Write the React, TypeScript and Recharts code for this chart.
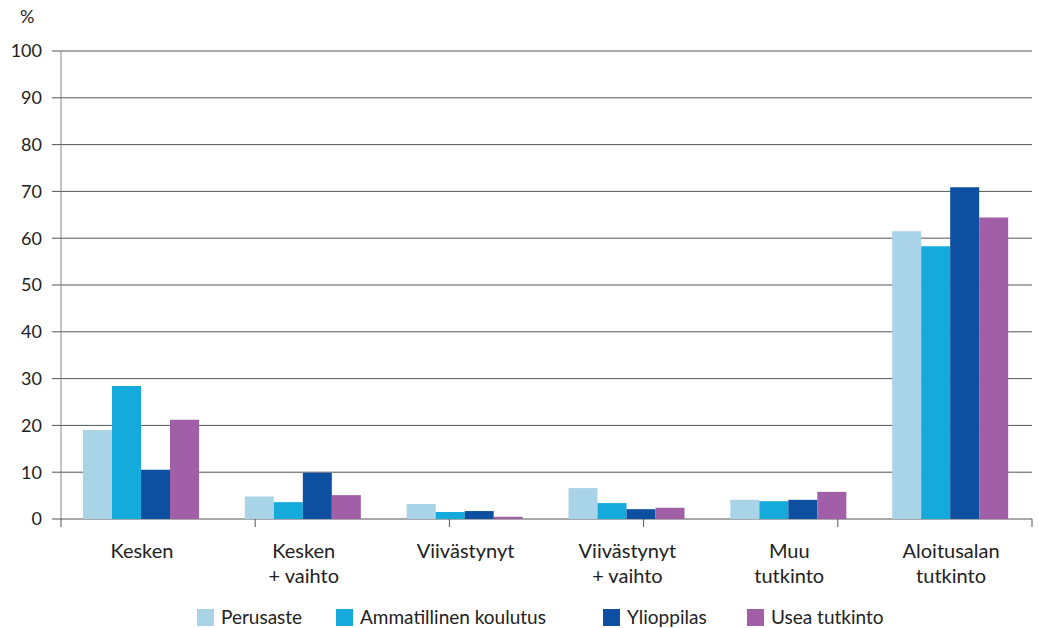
import React from 'react';
import { BarChart, Bar, XAxis, YAxis, CartesianGrid } from 'recharts';

// categories (two-line labels split on \n)
const categories = ['Kesken', 'Kesken\n+ vaihto', 'Viivästynyt', 'Viivästynyt\n+ vaihto', 'Muu\ntutkinto', 'Aloitusalan\ntutkinto'];

// series values, %
const perusaste = [19.0, 4.8, 3.2, 6.6, 4.1, 61.5];
const ammatillinen = [28.4, 3.6, 1.5, 3.4, 3.8, 58.3];
const ylioppilas = [10.5, 9.9, 1.7, 2.1, 4.1, 70.9];
const usea = [21.2, 5.1, 0.5, 2.4, 5.8, 64.4];

const yTicks = [0, 10, 20, 30, 40, 50, 60, 70, 80, 90, 100];
const edgeTicks = [0, 1, 2, 3, 4, 5, 6];

const series = [
  { key: 'Perusaste', color: '#a9d3e7', width: 139 },
  { key: 'Ammatillinen koulutus', color: '#14aadc', width: 267 },
  { key: 'Ylioppilas', color: '#0d4fa0', width: 144 },
  { key: 'Usea tutkinto', color: '#a05fa6', width: 160 },
];

const data = categories.map((name, i) => ({
  name,
  Perusaste: perusaste[i],
  'Ammatillinen koulutus': ammatillinen[i],
  Ylioppilas: ylioppilas[i],
  'Usea tutkinto': usea[i],
}));

const FONT = 'Lato, "Open Sans", sans-serif';

// two-line category label
const CategoryTick = ({ x, y, payload }: any) => {
  const lines = String(payload.value).split('\n');
  return (
    <text x={x} y={y} textAnchor="middle" fill="#222" fontSize={20} fontFamily={FONT}>
      {lines.map((line, i) => (
        <tspan key={i} x={x} dy={i === 0 ? 30 : 25}>
          {line}
        </tspan>
      ))}
    </text>
  );
};

export default function App() {
  return (
    <div style={{ position: 'absolute', left: 0, top: 0, width: 1038, height: 628, background: '#fff', fontFamily: FONT }}>
      <div style={{ position: 'absolute', left: 20, top: 5, fontSize: 18, color: '#222' }}>%</div>
      <BarChart
        width={1038}
        height={628}
        data={data}
        margin={{ top: 51, right: 6, left: 0, bottom: 48 }}
        barCategoryGap="13.6%"
        barGap={0}
      >
        <CartesianGrid vertical={false} stroke="#555" />
        {/* boundary ticks between categories */}
        <XAxis
          xAxisId={0}
          type="number"
          domain={[0, 6]}
          ticks={edgeTicks}
          height={1}
          axisLine={false}
          tick={{ fontSize: 0 }}
          tickFormatter={() => ''}
          tickLine={{ stroke: '#555' }}
          tickSize={8}
        />
        <XAxis
          xAxisId={1}
          dataKey="name"
          height={60}
          axisLine={false}
          tickLine={false}
          interval={0}
          tick={<CategoryTick />}
        />
        <YAxis
          width={61}
          domain={[0, 100]}
          ticks={yTicks}
          axisLine={{ stroke: '#888' }}
          tickLine={{ stroke: '#555' }}
          tickSize={9}
          tickMargin={10}
          tick={{ fill: '#222', fontSize: 18, fontFamily: FONT }}
        />
        {series.map((s) => (
          <Bar key={s.key} xAxisId={1} dataKey={s.key} fill={s.color} isAnimationActive={false} />
        ))}
      </BarChart>
      <div
        style={{
          position: 'absolute',
          left: 197,
          top: 605,
          display: 'flex',
          alignItems: 'center',
          fontSize: 19,
          lineHeight: '24px',
          color: '#222',
        }}
      >
        {series.map((s) => (
          <div key={s.key} style={{ display: 'flex', alignItems: 'center', width: s.width }}>
            <span style={{ display: 'inline-block', width: 17, height: 17, background: s.color, marginRight: 7 }} />
            <span style={{ whiteSpace: 'nowrap' }}>{s.key}</span>
          </div>
        ))}
      </div>
    </div>
  );
}
